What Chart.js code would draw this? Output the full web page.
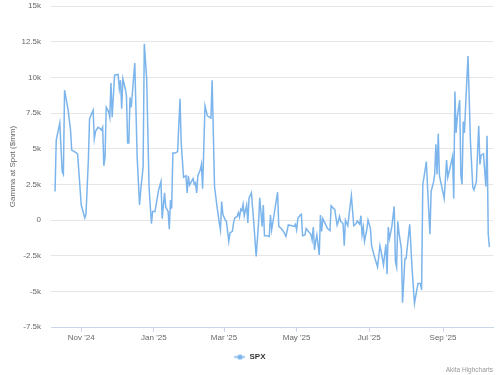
<!DOCTYPE html>
<html>
<head>
<meta charset="utf-8">
<script src="https://cdn.jsdelivr.net/npm/chart.js@4/dist/chart.umd.min.js"></script>
<style>
  html, body { margin: 0; padding: 0; background: #ffffff; }
  #wrap { width: 500px; height: 375px; position: relative; }
</style>
</head>
<body>
<div id="wrap"><canvas id="gammaChart" width="500" height="375"></canvas></div>
<script>
const seriesName = "SPX";
const yTitle = "Gamma at Spot ($mm)";
const creditText = "Akita Highcharts";

const tickDates = ["2024-11-01", "2025-01-01", "2025-03-01", "2025-05-01", "2025-07-01", "2025-09-01"];
const tickLabels = ["Nov '24", "Jan '25", "Mar '25", "May '25", "Jul '25", "Sep '25"];

const dates = [
    "2024-10-10", "2024-10-11", "2024-10-14", "2024-10-16", "2024-10-17", "2024-10-18", "2024-10-21", "2024-10-23",
    "2024-10-24", "2024-10-28", "2024-10-29", "2024-11-01", "2024-11-04", "2024-11-05", "2024-11-07", "2024-11-08",
    "2024-11-11", "2024-11-12", "2024-11-13", "2024-11-15", "2024-11-17", "2024-11-18", "2024-11-19", "2024-11-20",
    "2024-11-21", "2024-11-22", "2024-11-24", "2024-11-25", "2024-11-26", "2024-11-27", "2024-11-29", "2024-12-02",
    "2024-12-03", "2024-12-04", "2024-12-05", "2024-12-06", "2024-12-08", "2024-12-09", "2024-12-10", "2024-12-11",
    "2024-12-12", "2024-12-13", "2024-12-16", "2024-12-18", "2024-12-20", "2024-12-21", "2024-12-23", "2024-12-24",
    "2024-12-26", "2024-12-28", "2024-12-30", "2024-12-31", "2025-01-02", "2025-01-05", "2025-01-07", "2025-01-08",
    "2025-01-10", "2025-01-11", "2025-01-13", "2025-01-14", "2025-01-15", "2025-01-16", "2025-01-17", "2025-01-19",
    "2025-01-21", "2025-01-23", "2025-01-24", "2025-01-26", "2025-01-28", "2025-01-29", "2025-01-30", "2025-01-31",
    "2025-02-01", "2025-02-03", "2025-02-04", "2025-02-05", "2025-02-06", "2025-02-07", "2025-02-09", "2025-02-10",
    "2025-02-11", "2025-02-13", "2025-02-15", "2025-02-17", "2025-02-18", "2025-02-19", "2025-02-21", "2025-02-23",
    "2025-02-25", "2025-02-26", "2025-02-27", "2025-02-28", "2025-03-02", "2025-03-03", "2025-03-05", "2025-03-06",
    "2025-03-08", "2025-03-09", "2025-03-10", "2025-03-12", "2025-03-13", "2025-03-14", "2025-03-15", "2025-03-16",
    "2025-03-17", "2025-03-18", "2025-03-20", "2025-03-21", "2025-03-22", "2025-03-24", "2025-03-26", "2025-03-28",
    "2025-03-30", "2025-03-31", "2025-04-02", "2025-04-03", "2025-04-04", "2025-04-06", "2025-04-08", "2025-04-09",
    "2025-04-10", "2025-04-12", "2025-04-15", "2025-04-16", "2025-04-18", "2025-04-20", "2025-04-22", "2025-04-24",
    "2025-04-27", "2025-04-29", "2025-04-30", "2025-05-01", "2025-05-02", "2025-05-04", "2025-05-05", "2025-05-06",
    "2025-05-08", "2025-05-09", "2025-05-11", "2025-05-13", "2025-05-14", "2025-05-15", "2025-05-16", "2025-05-17",
    "2025-05-18", "2025-05-20", "2025-05-21", "2025-05-22", "2025-05-23", "2025-05-25", "2025-05-27", "2025-05-29",
    "2025-05-30", "2025-06-01", "2025-06-02", "2025-06-04", "2025-06-05", "2025-06-06", "2025-06-07", "2025-06-09",
    "2025-06-10", "2025-06-11", "2025-06-13", "2025-06-14", "2025-06-16", "2025-06-18", "2025-06-20", "2025-06-21",
    "2025-06-23", "2025-06-24", "2025-06-25", "2025-06-26", "2025-06-27", "2025-06-29", "2025-06-30", "2025-07-02",
    "2025-07-03", "2025-07-05", "2025-07-08", "2025-07-10", "2025-07-11", "2025-07-13", "2025-07-15", "2025-07-16",
    "2025-07-17", "2025-07-18", "2025-07-19", "2025-07-20", "2025-07-22", "2025-07-23", "2025-07-24", "2025-07-25",
    "2025-07-26", "2025-07-28", "2025-07-29", "2025-07-31", "2025-08-01", "2025-08-04", "2025-08-06", "2025-08-08",
    "2025-08-10", "2025-08-11", "2025-08-13", "2025-08-14", "2025-08-15", "2025-08-18", "2025-08-19", "2025-08-21",
    "2025-08-22", "2025-08-24", "2025-08-25", "2025-08-26", "2025-08-27", "2025-08-28", "2025-08-29", "2025-08-31",
    "2025-09-02", "2025-09-04", "2025-09-05", "2025-09-07", "2025-09-09", "2025-09-10", "2025-09-11", "2025-09-12",
    "2025-09-13", "2025-09-15", "2025-09-16", "2025-09-17", "2025-09-18", "2025-09-19", "2025-09-20", "2025-09-22",
    "2025-09-24", "2025-09-26", "2025-09-27", "2025-09-28", "2025-09-29", "2025-10-01", "2025-10-02", "2025-10-03",
    "2025-10-05", "2025-10-07", "2025-10-08", "2025-10-09", "2025-10-10"
];

const gamma = [
    2000, 5600, 6800, 3400, 3200, 9100, 7700, 6300,
    4900, 4700, 4600, 1050, 150, 400, 4200, 7100,
    7700, 5700, 6200, 6500, 6400, 6300, 6500, 3800,
    4400, 7900, 7600, 7200, 9600, 7200, 10150, 10200,
    9200, 9800, 7800, 9900, 9200, 8700, 5400, 5400,
    8600, 7900, 11000, 4400, 1050, 2100, 3700, 12350,
    9900, 2300, -250, 600, 600, 2100, 2700, 100,
    1900, 900, 600, -650, 1400, 800, 4700, 4700,
    4800, 8500, 5400, 3000, 3100, 1900, 3100, 2450,
    2600, 2900, 2500, 2600, 1900, 3100, 3500, 3900,
    2200, 8000, 7300, 7200, 7150, 9800, 2350, 1000,
    -200, -700, 1300, 400, 0, -100, -1500, -900,
    -800, -200, 150, 250, 500, 200, 750, 650,
    1100, 300, 1050, -200, 1550, 1900, -200, -2550,
    -200, 1550, -450, 1050, -1100, -1100, -1150, 350,
    -700, 350, 1950, -450, -600, -800, -1150, -350,
    -400, -450, -300, -700, 100, 350, 400, -1100,
    -1050, -600, -800, -1000, -1400, -500, -2100, -1500,
    -1050, -2450, 350, -800, 100, -250, -600, -750,
    1000, 800, 750, -350, -100, 250, -100, -250,
    -1800, 0, -400, 350, 1700, -400, -250, -50,
    -300, 300, -1050, -500, -1500, -650, 0, -600,
    -1800, -2450, -3300, -1800, -2200, -3150, -1700, -3800,
    -500, -1300, -900, -450, 950, -2900, -3300, -100,
    -900, -2000, -5800, -2700, -2700, -300, -3400, -5850,
    -4900, -4450, -4450, -4900, 2450, 4100, 2300, -1000,
    2000, 2650, 3200, 5300, 3200, 6050, 3100, 2300,
    1500, 4200, 3000, 3700, 4450, 1500, 9000, 6100,
    7200, 8400, 3100, 2500, 6900, 6100, 8000, 11500,
    5600, 2300, 2100, 2400, 2650, 6600, 3900, 4550,
    4650, 2350, 5900, -1000, -1900
];

const yMin = -7500;
const yMax = 15000;
const yStep = 2500;

function dayOf(s) {
    return Date.UTC(+s.slice(0, 4), +s.slice(5, 7) - 1, +s.slice(8, 10)) / 86400000;
}

const xTicks = tickDates.map(dayOf);
const xMin = dayOf("2024-11-01") - 25.4;
const xMax = dayOf("2024-11-01") + 346;

const points = dates.map((d, i) => ({ x: dayOf(d), y: gamma[i] }));

// legend symbol: short line with a dot, like the original
const symbol = document.createElement("canvas");
symbol.width = 11;
symbol.height = 7;
(function () {
    const c = symbol.getContext("2d");
    c.strokeStyle = "#7cb5ec";
    c.lineWidth = 1.5;
    c.beginPath();
    c.moveTo(0, 3.5);
    c.lineTo(11, 3.5);
    c.stroke();
    c.fillStyle = "#7cb5ec";
    c.beginPath();
    c.arc(5.5, 3.5, 2.6, 0, Math.PI * 2);
    c.fill();
})();

const creditsPlugin = {
    id: "credits",
    afterDraw(chart) {
        const c = chart.ctx;
        c.save();
        c.font = '6.5px "Liberation Sans", Arial, sans-serif';
        c.fillStyle = "#999999";
        c.textAlign = "right";
        c.textBaseline = "middle";
        c.fillText(creditText, 493, 370);
        c.restore();
    }
};

const fontFamily = '"Liberation Sans", Arial, sans-serif';

new Chart(document.getElementById("gammaChart").getContext("2d"), {
    type: "line",
    data: {
        datasets: [{
            label: seriesName,
            data: points,
            borderColor: "#7cb5ec",
            backgroundColor: "#7cb5ec",
            borderWidth: 1.5,
            pointRadius: 0,
            tension: 0,
            fill: false
        }]
    },
    options: {
        responsive: false,
        animation: false,
        layout: { padding: { top: 6, left: 7, right: 7, bottom: 4 } },
        plugins: {
            tooltip: { enabled: false },
            legend: {
                position: "bottom",
                labels: {
                    usePointStyle: true,
                    pointStyle: symbol,
                    pointStyleWidth: 11,
                    padding: 10,
                    color: "#333333",
                    font: { family: fontFamily, size: 8, weight: "bold" }
                }
            }
        },
        scales: {
            x: {
                type: "linear",
                min: xMin,
                max: xMax,
                afterBuildTicks: (scale) => {
                    scale.ticks = xTicks.map(v => ({ value: v }));
                },
                afterFit: (scale) => { scale.height = 16; },
                grid: {
                    drawOnChartArea: false,
                    drawTicks: true,
                    tickLength: 5,
                    color: "#ccd6eb"
                },
                border: { color: "#ccd6eb", width: 1 },
                ticks: {
                    autoSkip: false,
                    maxRotation: 0,
                    padding: 1,
                    color: "#666666",
                    font: { family: fontFamily, size: 8 },
                    callback: (v) => {
                        const i = xTicks.indexOf(v);
                        return i >= 0 ? tickLabels[i] : "";
                    }
                }
            },
            y: {
                min: yMin,
                max: yMax,
                afterFit: (scale) => { scale.width = 44; },
                grid: {
                    color: "#e6e6e6",
                    drawTicks: true,
                    tickLength: 10,
                    tickColor: "rgba(0,0,0,0)"
                },
                border: { display: false },
                ticks: {
                    stepSize: yStep,
                    padding: 0,
                    color: "#666666",
                    font: { family: fontFamily, size: 8 },
                    callback: (v) => v === 0 ? "0" : (v / 1000) + "k"
                },
                title: {
                    display: true,
                    text: yTitle,
                    color: "#666666",
                    padding: { top: 1, bottom: 0 },
                    font: { family: fontFamily, size: 8 }
                }
            }
        }
    },
    plugins: [creditsPlugin]
});
</script>
</body>
</html>
